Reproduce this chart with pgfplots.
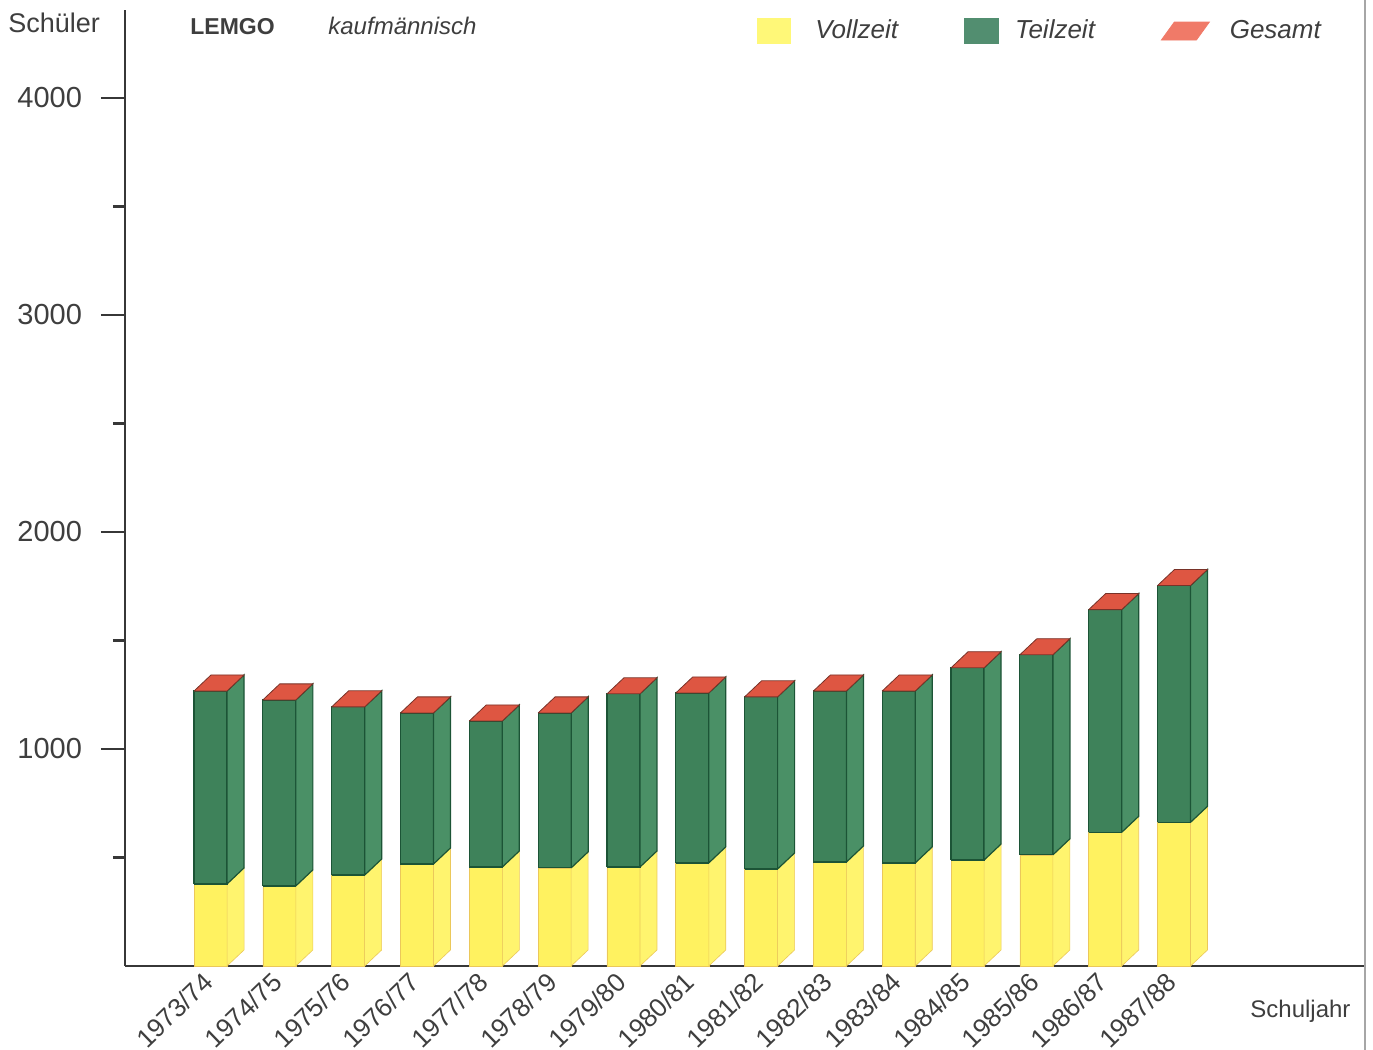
\documentclass[border=0pt]{standalone}
\usepackage{pgfplots}
\usepackage{pgfplotstable}
\pgfplotsset{compat=1.18}
\usepackage{fontspec}
\setmainfont{Liberation Sans}

\definecolor{yfront}{RGB}{255,242,96}
\definecolor{yside}{RGB}{255,244,110}
\definecolor{yedge}{RGB}{235,200,90}
\definecolor{gfront}{RGB}{62,130,90}
\definecolor{gside}{RGB}{74,144,102}
\definecolor{gedge}{RGB}{28,84,54}
\definecolor{rtop}{RGB}{222,86,66}
\definecolor{redge}{RGB}{120,50,40}
\definecolor{txt}{RGB}{62,62,62}
\definecolor{axcol}{RGB}{55,55,55}
\definecolor{lgyellow}{RGB}{255,248,120}
\definecolor{lggreen}{RGB}{82,142,112}
\definecolor{lgred}{RGB}{240,122,104}

% x: year index, v: Vollzeit, p: Teilzeit, t: Gesamt
\pgfplotstableread{
x v p t
0 378 889 1267
1 369 857 1226
2 419 775 1194
3 470 696 1166
4 456 673 1129
5 452 714 1166
6 456 798 1254
7 475 783 1258
8 447 793 1240
9 479 788 1267
10 475 792 1267
11 488 886 1374
12 512 922 1434
13 616 1026 1642
14 662 1091 1753
}\data

\begin{document}
\begin{tikzpicture}
\begin{axis}[
  at={(62.5pt,42pt)}, anchor=south west,
  scale only axis, width=620pt, height=478pt,
  xmin=-1.243, xmax=16.775, ymin=0, ymax=4405,
  axis x line=bottom, axis y line=left,
  axis line style={-, line width=1.3pt, color=axcol},
  xtick={0,...,14},
  xticklabels={1973/74,1974/75,1975/76,1976/77,1977/78,1978/79,1979/80,1980/81,1981/82,1982/83,1983/84,1984/85,1985/86,1986/87,1987/88},
  xtick style={draw=none},
  ytick={1000,2000,3000,4000},
  yticklabels={1000,2000,3000,4000},
  minor ytick={500,1500,2500,3500},
  tick align=outside,
  major tick length=12pt, minor tick length=6pt,
  ytick style={line width=1.2pt, color=axcol},
  minor y tick style={line width=1.2pt, color=axcol},
  xticklabel style={inner sep=0pt, xshift=-4.5pt, yshift=10pt, rotate=44, anchor=north east, font=\fontsize{13}{15}\selectfont, text=txt},
  yticklabel style={font=\fontsize{14.5}{16}\selectfont, text=txt, xshift=-6pt},
  clip=false,
  legend columns=3,
  legend style={at={(rel axis cs:0.509,0.978)}, anchor=west, draw=none, fill=none,
    inner sep=0pt, font=\itshape\fontsize{13}{15}\selectfont, text=txt,
    nodes={inner xsep=0pt, inner ysep=2pt},
    /tikz/every even column/.append style={column sep=33pt}},
]
% front faces of Vollzeit
\addplot[ybar, bar width=0.48, bar shift=0pt, fill=yfront, draw=yedge, line width=0.3pt, forget plot]
  table[x=x, y=v]{\data};

\pgfplotsinvokeforeach{0,...,14}{
  \pgfplotstablegetelem{#1}{v}\of\data \let\fyV=\pgfplotsretval
  \pgfplotstablegetelem{#1}{t}\of\data \let\fyT=\pgfplotsretval
  \pgfmathsetmacro\fxL{#1-0.24}
  \pgfmathsetmacro\fxA{#1+0.24}
  \pgfmathsetmacro\fxB{#1+0.487}
  \pgfmathsetmacro\fxC{#1+0.007}
  \pgfmathsetmacro\fyVd{\fyV+74}
  \pgfmathsetmacro\fyTd{\fyT+74}
  \edef\tmpcmd{%
    \noexpand\addplot[fill=yside, draw=yedge, line width=0.3pt, forget plot]
      coordinates {(\fxA,0) (\fxB,74) (\fxB,\fyVd) (\fxA,\fyV) (\fxA,0)};
    \noexpand\addplot[fill=gfront, draw=gedge, line width=0.6pt, forget plot]
      coordinates {(\fxL,\fyV) (\fxA,\fyV) (\fxA,\fyT) (\fxL,\fyT) (\fxL,\fyV)};
    \noexpand\addplot[fill=gside, draw=gedge, line width=0.6pt, forget plot]
      coordinates {(\fxA,\fyV) (\fxB,\fyVd) (\fxB,\fyTd) (\fxA,\fyT) (\fxA,\fyV)};
    \noexpand\addplot[fill=rtop, draw=redge, line width=0.4pt, forget plot]
      coordinates {(\fxL,\fyT) (\fxA,\fyT) (\fxB,\fyTd) (\fxC,\fyTd) (\fxL,\fyT)};
  }%
  \tmpcmd
}

\addlegendimage{legend image code/.code={\fill[lgyellow] (0pt,-6.2pt) rectangle (16.5pt,6.2pt); \path (29pt,0pt);}}
\addlegendentry{Vollzeit}
\addlegendimage{legend image code/.code={\fill[lggreen] (0pt,-6.2pt) rectangle (17pt,6.2pt); \path (25pt,0pt);}}
\addlegendentry{Teilzeit}
\addlegendimage{legend image code/.code={\fill[lgred] (0pt,-4.5pt) -- (17.5pt,-4.5pt) -- (24pt,4.5pt) -- (6.5pt,4.5pt) -- cycle; \path (34pt,0pt);}}
\addlegendentry{Gesamt}
\end{axis}

\node[anchor=base west, inner sep=0pt, text=txt, font=\fontsize{13.5}{15}\selectfont] at (4pt,508.5pt) {Schüler};
\node[anchor=base west, inner sep=0pt, text=txt, font=\bfseries\fontsize{11.5}{13}\selectfont] at (95pt,507.5pt) {LEMGO};
\node[anchor=base west, inner sep=0pt, text=txt, font=\itshape\fontsize{12}{14}\selectfont] at (164pt,507.5pt) {kaufmännisch};
\node[anchor=base west, inner sep=0pt, text=txt, font=\fontsize{12}{14}\selectfont] at (625pt,16pt) {Schuljahr};
\draw[color=gray!70, line width=1pt] (682.5pt,0pt) -- (682.5pt,525pt);

\pgfresetboundingbox
\path[use as bounding box] (0pt,0pt) rectangle (686.5pt,525pt);
\end{tikzpicture}
\end{document}
